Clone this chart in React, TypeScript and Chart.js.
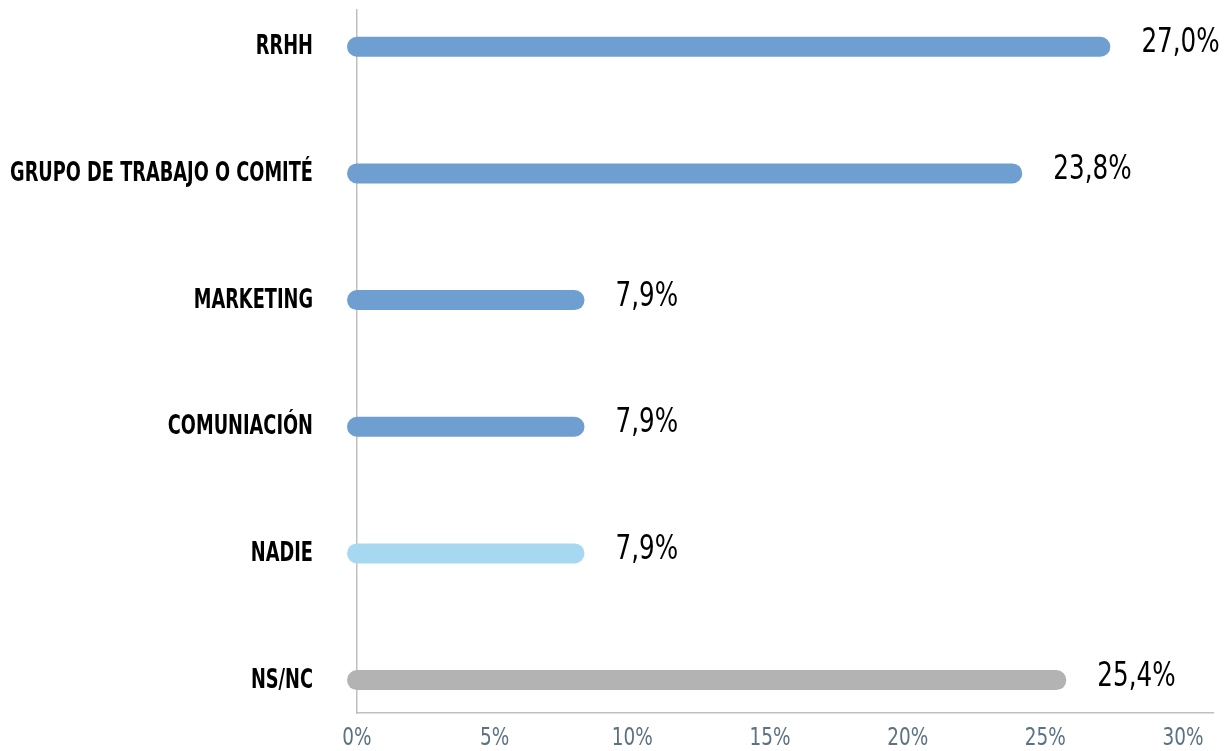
import React, { useEffect, useRef } from "react";
import { Chart, registerables } from "chart.js";

Chart.register(...registerables);

const categories = ["RRHH", "GRUPO DE TRABAJO O COMITÉ", "MARKETING", "COMUNIACIÓN", "NADIE", "NS/NC"];
const values = [27.0, 23.8, 7.9, 7.9, 7.9, 25.4];
const valueLabels = ["27,0%", "23,8%", "7,9%", "7,9%", "7,9%", "25,4%"];
const barColors = ["#6f9fd0", "#6f9fd0", "#6f9fd0", "#6f9fd0", "#a6d9f1", "#b3b3b3"];
const tickValues = [0, 5, 10, 15, 20, 25, 30];
const tickLabels = ["0%", "5%", "10%", "15%", "20%", "25%", "30%"];

const FONT = "'Liberation Sans Narrow', 'DejaVu Sans Condensed', 'Roboto Condensed', sans-serif";

function condensedText(ctx: CanvasRenderingContext2D, text: string, x: number, y: number, factor: number) {
  const w = ctx.measureText(text).width;
  ctx.fillText(text, x, y, w * factor);
}

export default function App() {
  const ref = useRef<HTMLCanvasElement | null>(null);

  useEffect(() => {
    if (!ref.current) return;

    const textPlugin = {
      id: "textLabels",
      afterDraw(chart: any) {
        const { ctx, scales } = chart;
        ctx.save();
        // category labels
        ctx.font = `bold 26px ${FONT}`;
        ctx.fillStyle = "#000000";
        ctx.textAlign = "right";
        ctx.textBaseline = "middle";
        categories.forEach((c, i) => {
          const y = scales.y.getPixelForValue(i) + 1;
          condensedText(ctx, c, scales.y.right - 44, y, 0.76);
        });
        // x tick labels
        ctx.font = `25px ${FONT}`;
        ctx.fillStyle = "#5c7282";
        ctx.textAlign = "center";
        ctx.textBaseline = "middle";
        tickValues.forEach((v, i) => {
          const x = scales.x.getPixelForValue(v);
          condensedText(ctx, tickLabels[i], x, scales.x.top + 25, 0.82);
        });
        // value labels
        ctx.font = `33px ${FONT}`;
        ctx.fillStyle = "#000000";
        ctx.textAlign = "left";
        ctx.textBaseline = "middle";
        values.forEach((v, i) => {
          const x = scales.x.getPixelForValue(v) + 41;
          const y = scales.y.getPixelForValue(i) - 3;
          condensedText(ctx, valueLabels[i], x, y, 0.83);
        });
        ctx.restore();
      },
    };

    const chart = new Chart(ref.current, {
      type: "line",
      data: {
        datasets: categories.map((c, i) => ({
          label: c,
          data: [
            { x: 0, y: i },
            { x: values[i], y: i },
          ],
          borderColor: barColors[i],
          backgroundColor: barColors[i],
          borderWidth: 20,
          borderCapStyle: "round" as const,
          pointRadius: 0,
          pointHoverRadius: 0,
          fill: false,
          clip: 30,
        })),
      },
      options: {
        animation: false,
        responsive: false,
        maintainAspectRatio: false,
        events: [],
        layout: { padding: { top: 10, right: 12, bottom: 0, left: 0 } },
        plugins: {
          legend: { display: false },
          tooltip: { enabled: false },
        },
        scales: {
          x: {
            type: "linear",
            min: 0,
            max: 31.09,
            afterBuildTicks: (scale: any) => {
              scale.ticks = tickValues.map((v) => ({ value: v }));
            },
            afterFit: (scale: any) => {
              scale.height = 38;
            },
            grid: { display: false, drawTicks: false },
            border: { display: true, color: "#bfbfbf", width: 1.5 },
            ticks: { display: false },
          },
          y: {
            type: "linear",
            reverse: true,
            min: -0.29,
            max: 5.26,
            afterBuildTicks: (scale: any) => {
              scale.ticks = categories.map((_, i) => ({ value: i }));
            },
            afterFit: (scale: any) => {
              scale.width = 357;
            },
            grid: { display: false, drawTicks: false },
            border: { display: true, color: "#bfbfbf", width: 1.5 },
            ticks: { display: false },
          },
        },
      },
      plugins: [textPlugin],
    } as any);

    return () => chart.destroy();
  }, []);

  return (
    <div style={{ position: "fixed", left: 0, top: 0, width: 1225, height: 751, background: "#ffffff" }}>
      <canvas ref={ref} width={1225} height={751} style={{ display: "block" }} />
    </div>
  );
}
